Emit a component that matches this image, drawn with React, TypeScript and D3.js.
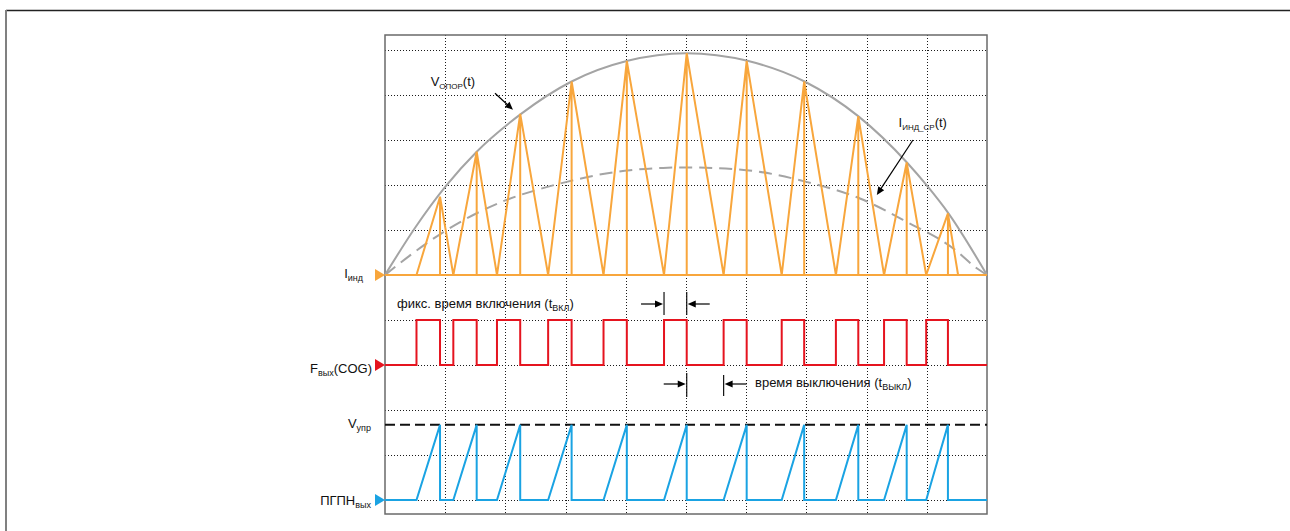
import React from 'react';
import * as d3 from 'd3';

// ---- data (time in grid divisions 0..10) ----
const onStart = [0.523, 1.135, 1.86, 2.71, 3.63, 4.635, 5.625, 6.59, 7.49, 8.29, 8.99];
const onEnd = [0.914, 1.523, 2.246, 3.1, 4.017, 5.012, 6.008, 6.963, 7.862, 8.666, 9.351];
const lastOffEnd = 9.52;
const peakCurrent = [1.74, 2.74, 3.58, 4.3, 4.76, 4.93, 4.76, 4.3, 3.53, 2.5, 1.37];

const envT = [0, 0.5, 1.013, 1.523, 2.26, 3.1, 4.03, 5.0, 6.02, 6.97, 7.86, 8.67, 9.0, 9.36, 10];
const envV = [0, 1.05, 1.98, 2.74, 3.58, 4.3, 4.76, 4.93, 4.76, 4.3, 3.53, 2.5, 1.99, 1.37, 0];

const avgT = [0, 0.5, 1.025, 1.58, 2.02, 2.52, 3.02, 3.52, 4.07, 4.62, 5.0, 6.0, 7.0, 7.89, 8.67, 9.44, 9.83, 10];
const avgV = [0, 0.52, 1.0, 1.41, 1.67, 1.89, 2.07, 2.22, 2.33, 2.38, 2.39, 2.33, 2.07, 1.7, 1.18, 0.59, 0.15, 0];

const gridT = [1, 2, 3, 4, 5, 6, 7, 8, 9];
const gridTop = [1, 2, 3, 4, 5];
const gridRed = [0, 1];
const gridBlue = [0, 1, 2];
const vUpr = 1.67;

const ORANGE = '#f8a63c';
const RED = '#e5141f';
const BLUE = '#1aa3e3';
const GRAY = '#a4a4a4';
const FONT = 'Liberation Sans, Arial, sans-serif';

export default function App() {
  const x = d3.scaleLinear().domain([0, 10]).range([385, 987]);
  const yTop = d3.scaleLinear().domain([0, 5]).range([275, 50]);
  const yRed = d3.scaleLinear().domain([0, 1]).range([365, 320]);
  const yBlue = d3.scaleLinear().domain([0, 2]).range([500, 410]);

  const boxTop = 35, boxBottom = 514;
  const px = (v: number) => Math.round(v) + 0.5;

  const envLine = d3.line<number>().x((_, i) => x(envT[i])).y(d => yTop(d)).curve(d3.curveMonotoneX);
  const avgLine = d3.line<number>().x((_, i) => x(avgT[i])).y(d => yTop(d)).curve(d3.curveMonotoneX);

  // orange triangles
  const oPath = d3.path();
  onStart.forEach((s, i) => {
    const e = onEnd[i];
    const off = i < onStart.length - 1 ? onStart[i + 1] : lastOffEnd;
    oPath.moveTo(x(s), yTop(0));
    oPath.lineTo(x(e), yTop(peakCurrent[i]));
    oPath.lineTo(x(off), yTop(0));
    oPath.moveTo(x(e), yTop(peakCurrent[i]));
    oPath.lineTo(x(e), yTop(0));
  });

  // red square wave
  const redPts: [number, number][] = [[0, 0]];
  onStart.forEach((s, i) => {
    redPts.push([s, 0], [s, 1], [onEnd[i], 1], [onEnd[i], 0]);
  });
  redPts.push([10, 0]);
  const redLine = d3.line<[number, number]>().x(d => x(d[0])).y(d => yRed(d[1]))(redPts) || '';

  // blue ramp
  const bluePts: [number, number][] = [[0, 0]];
  onStart.forEach((s, i) => {
    bluePts.push([s, 0], [onEnd[i], vUpr], [onEnd[i], 0]);
  });
  bluePts.push([10, 0]);
  const blueLine = d3.line<[number, number]>().x(d => x(d[0])).y(d => yBlue(d[1]))(bluePts) || '';

  const arrowHead = (x1: number, y1: number, x2: number, y2: number, len = 8, w = 3.5) => {
    const ang = Math.atan2(y2 - y1, x2 - x1);
    const bx = x2 - len * Math.cos(ang), by = y2 - len * Math.sin(ang);
    const qx = -Math.sin(ang) * w, qy = Math.cos(ang) * w;
    return `${x2},${y2} ${bx + qx},${by + qy} ${bx - qx},${by - qy}`;
  };

  const Arrow = ({ x1, y1, x2, y2 }: { x1: number; y1: number; x2: number; y2: number }) => {
    const ang = Math.atan2(y2 - y1, x2 - x1);
    const ex = x2 - 6 * Math.cos(ang), ey = y2 - 6 * Math.sin(ang);
    return (
      <g>
        <line x1={x1} y1={y1} x2={ex} y2={ey} stroke="#000" strokeWidth={1.2} />
        <polygon points={arrowHead(x1, y1, x2, y2)} fill="#000" />
      </g>
    );
  };

  // timing markers from cycle 6
  const k = 5;
  const tOnA = x(onStart[k]), tOnB = x(onEnd[k]), tOffB = x(onStart[k + 1]);
  const yOn = 304, yOff = 384;

  const mainFs = 13;
  const subFs = 9;

  const marker = (tipY: number, color: string) => (
    <polygon points={`385,${tipY} 375,${tipY - 6} 375,${tipY + 6}`} fill={color} />
  );

  return (
    <svg width={1290} height={531} style={{ position: 'absolute', left: 0, top: 0, background: '#fff' }}
      fontFamily={FONT}>
      <rect x={0} y={0} width={1290} height={531} fill="#fff" />
      {/* outer frame */}
      <line x1={6} y1={10.5} x2={1290} y2={10.5} stroke="#222" strokeWidth={1.4} />
      <line x1={6} y1={10} x2={6} y2={531} stroke="#808080" strokeWidth={2} />

      {/* grid */}
      <g stroke="#1a1a1a" strokeWidth={1} strokeDasharray="1,2" shapeRendering="crispEdges">
        {gridT.map(t => (
          <line key={'v' + t} x1={px(x(t))} x2={px(x(t))} y1={boxTop} y2={boxBottom} />
        ))}
        {gridTop.map(v => (
          <line key={'t' + v} x1={x(0)} x2={x(10)} y1={px(yTop(v))} y2={px(yTop(v))} />
        ))}
        {gridRed.map(v => (
          <line key={'r' + v} x1={x(0)} x2={x(10)} y1={px(yRed(v))} y2={px(yRed(v))} />
        ))}
        {gridBlue.map(v => (
          <line key={'b' + v} x1={x(0)} x2={x(10)} y1={px(yBlue(v))} y2={px(yBlue(v))} />
        ))}
      </g>
      {/* box */}
      <rect x={x(0)} y={boxTop} width={x(10) - x(0)} height={boxBottom - boxTop} fill="none" stroke="#6a6a6a" strokeWidth={1.5} />

      {/* envelope and average */}
      <path d={envLine(envV) || ''} fill="none" stroke={GRAY} strokeWidth={2} />
      <path d={avgLine(avgV) || ''} fill="none" stroke={GRAY} strokeWidth={2} strokeDasharray="13,7" />

      {/* inductor current */}
      <line x1={x(0)} x2={x(10)} y1={yTop(0)} y2={yTop(0)} stroke={ORANGE} strokeWidth={2} />
      <path d={oPath.toString()} fill="none" stroke={ORANGE} strokeWidth={2} />

      {/* F out */}
      <path d={redLine} fill="none" stroke={RED} strokeWidth={2} />

      {/* V upr and ramp */}
      <line x1={x(0)} x2={x(10)} y1={yBlue(vUpr)} y2={yBlue(vUpr)} stroke="#111" strokeWidth={2} strokeDasharray="10,5" />
      <path d={blueLine} fill="none" stroke={BLUE} strokeWidth={2} />

      {/* left markers */}
      {marker(yTop(0), ORANGE)}
      {marker(yRed(0), RED)}
      {marker(yBlue(0), BLUE)}

      {/* left labels */}
      <text x={363} y={278} textAnchor="end" fontSize={mainFs} fill="#111">
        I<tspan fontSize={subFs} dy={3}>инд</tspan>
      </text>
      <text x={372} y={373} textAnchor="end" fontSize={mainFs} fill="#111">
        F<tspan fontSize={subFs} dy={3}>вых</tspan><tspan dy={-3}>(COG)</tspan>
      </text>
      <text x={371} y={428} textAnchor="end" fontSize={mainFs} fill="#111">
        V<tspan fontSize={subFs} dy={3}>упр</tspan>
      </text>
      <text x={371} y={505} textAnchor="end" fontSize={mainFs} fill="#111">
        ПГПН<tspan fontSize={subFs} dy={3}>вых</tspan>
      </text>

      {/* curve labels */}
      <text x={x(0.758)} y={yTop(4.2)} fontSize={mainFs} fill="#111">
        V<tspan fontSize={subFs - 1} dy={3}>ОПОР</tspan><tspan dy={-3}>(t)</tspan>
      </text>
      <Arrow x1={x(1.827)} y1={yTop(4.04)} x2={x(2.126)} y2={yTop(3.67)} />
      <text x={x(8.53)} y={yTop(3.29)} fontSize={mainFs} fill="#111">
        I<tspan fontSize={subFs - 1} dy={3}>ИНД_СР</tspan><tspan dy={-3}>(t)</tspan>
      </text>
      <Arrow x1={x(8.77)} y1={yTop(3.0)} x2={x(8.17)} y2={yTop(1.78)} />

      {/* on time annotation */}
      <text x={397} y={308} fontSize={mainFs} fill="#111">
        фикс. время включения (t<tspan fontSize={subFs} dy={3}>ВКЛ</tspan><tspan dy={-3}>)</tspan>
      </text>
      <line x1={tOnA} x2={tOnA} y1={292} y2={315} stroke="#111" strokeWidth={1.2} />
      <line x1={tOnB} x2={tOnB} y1={292} y2={315} stroke="#111" strokeWidth={1.2} />
      <Arrow x1={tOnA - 23} y1={yOn} x2={tOnA - 1} y2={yOn} />
      <Arrow x1={tOnB + 23} y1={yOn} x2={tOnB + 1} y2={yOn} />

      {/* off time annotation */}
      <line x1={tOnB} x2={tOnB} y1={373} y2={397} stroke="#111" strokeWidth={1.2} />
      <line x1={tOffB} x2={tOffB} y1={375} y2={396} stroke="#111" strokeWidth={1.2} />
      <Arrow x1={tOnB - 23} y1={yOff} x2={tOnB - 1} y2={yOff} />
      <Arrow x1={tOffB + 23} y1={yOff} x2={tOffB + 1} y2={yOff} />
      <text x={755} y={386.5} fontSize={mainFs} fill="#111">
        время выключения (t<tspan fontSize={subFs} dy={3}>ВЫКЛ</tspan><tspan dy={-3}>)</tspan>
      </text>
    </svg>
  );
}
